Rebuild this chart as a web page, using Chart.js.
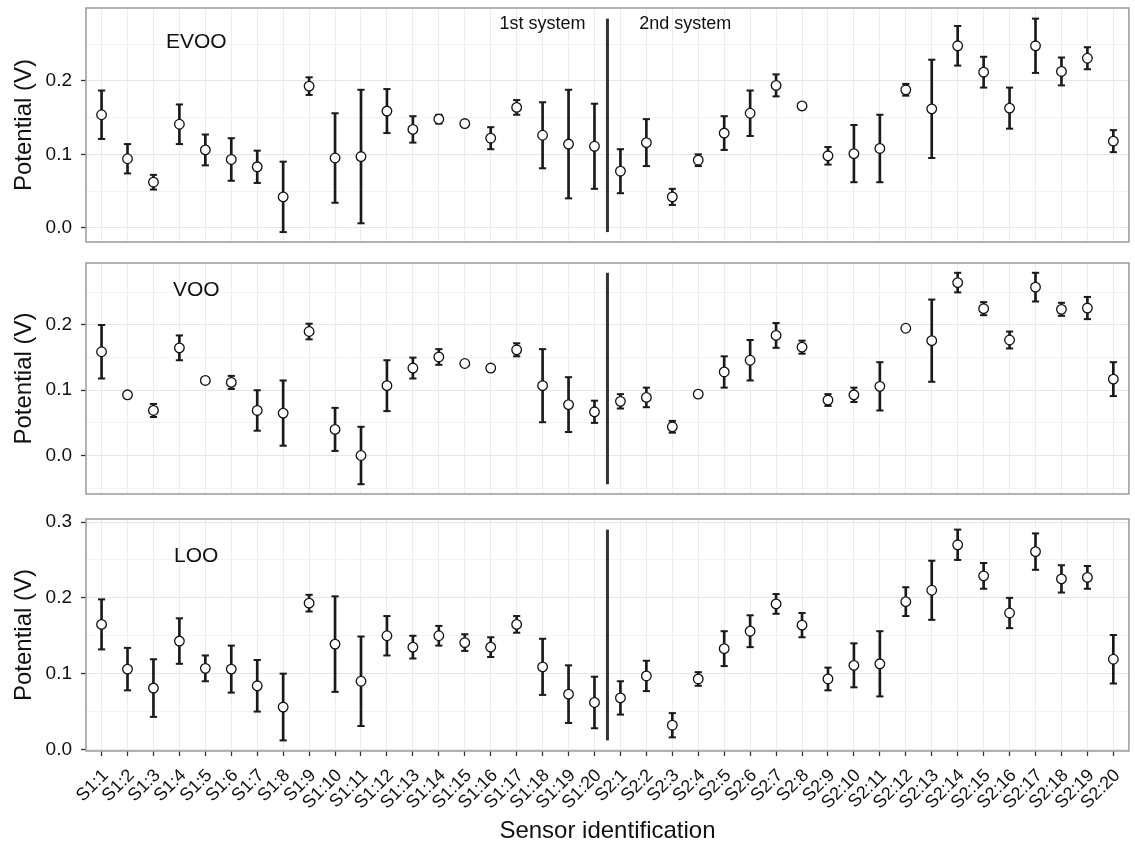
<!DOCTYPE html>
<html>
<head>
<meta charset="utf-8">
<title>Sensor potentials</title>
<script src="https://cdn.jsdelivr.net/npm/chart.js@4/dist/chart.umd.min.js"></script>
<style>
html,body{margin:0;padding:0;background:#fff;}
#wrap{position:relative;width:1135px;height:848px;overflow:hidden;}
.pn{position:absolute;left:0;width:1135px;}
</style>
</head>
<body>
<div id="wrap">
  <div class="pn" style="top:0;height:250px"><canvas id="c1"></canvas></div>
  <div class="pn" style="top:255px;height:247px"><canvas id="c2"></canvas></div>
  <div class="pn" style="top:505px;height:343px"><canvas id="c3"></canvas></div>
</div>
<script>
'use strict';

/* ---- data ---- */
var sensors=['S1:1','S1:2','S1:3','S1:4','S1:5','S1:6','S1:7','S1:8','S1:9','S1:10',
  'S1:11','S1:12','S1:13','S1:14','S1:15','S1:16','S1:17','S1:18','S1:19','S1:20',
  'S2:1','S2:2','S2:3','S2:4','S2:5','S2:6','S2:7','S2:8','S2:9','S2:10',
  'S2:11','S2:12','S2:13','S2:14','S2:15','S2:16','S2:17','S2:18','S2:19','S2:20'];

var evooMean=[0.154,0.094,0.062,0.141,0.106,0.093,0.083,0.042,0.193,0.095,
  0.097,0.159,0.134,0.148,0.142,0.122,0.164,0.126,0.114,0.111,
  0.077,0.116,0.042,0.092,0.129,0.156,0.194,0.166,0.098,0.101,
  0.108,0.188,0.162,0.248,0.212,0.163,0.248,0.213,0.231,0.118];
var evooErr=[0.033,0.020,0.010,0.027,0.021,0.029,0.022,0.048,0.012,0.061,
  0.091,0.030,0.018,0.006,0.002,0.015,0.010,0.045,0.074,0.058,
  0.030,0.032,0.011,0.008,0.023,0.031,0.015,0.004,0.012,0.039,
  0.046,0.008,0.067,0.027,0.021,0.028,0.037,0.019,0.015,0.015];

var vooMean=[0.159,0.093,0.069,0.165,0.115,0.112,0.069,0.065,0.190,0.040,
  0.000,0.107,0.134,0.151,0.141,0.134,0.162,0.107,0.078,0.067,
  0.083,0.089,0.044,0.094,0.128,0.146,0.184,0.166,0.085,0.093,
  0.106,0.195,0.176,0.265,0.225,0.177,0.258,0.224,0.226,0.117];
var vooErr=[0.041,0.001,0.010,0.019,0.001,0.010,0.031,0.050,0.012,0.033,
  0.044,0.039,0.016,0.012,0.001,0.001,0.010,0.056,0.042,0.017,
  0.011,0.015,0.009,0.001,0.024,0.031,0.019,0.010,0.009,0.011,
  0.037,0.001,0.063,0.015,0.010,0.013,0.022,0.010,0.017,0.026];

var looMean=[0.165,0.106,0.081,0.143,0.107,0.106,0.084,0.056,0.193,0.139,
  0.090,0.150,0.135,0.150,0.141,0.135,0.165,0.109,0.073,0.062,
  0.068,0.097,0.032,0.093,0.133,0.156,0.192,0.164,0.093,0.111,
  0.113,0.195,0.210,0.270,0.229,0.180,0.261,0.225,0.227,0.119];
var looErr=[0.033,0.028,0.038,0.030,0.017,0.031,0.034,0.044,0.011,0.063,
  0.059,0.026,0.015,0.013,0.011,0.013,0.011,0.037,0.038,0.034,
  0.022,0.020,0.016,0.009,0.023,0.021,0.013,0.016,0.015,0.029,
  0.043,0.019,0.039,0.020,0.017,0.020,0.024,0.018,0.015,0.032];

/* ---- look ---- */
var FONT='"Liberation Sans", Arial, Helvetica, sans-serif';
var INK='#111';
Chart.defaults.font.family=FONT;
Chart.defaults.color=INK;

function isMajor(v){return Math.abs(v*10-Math.round(v*10))<1e-6;}
function yLabel(v){return isMajor(v)?(Math.round(v*10)/10).toFixed(1):'';}

// grey frame round each panel
var framePlugin={id:'frame',beforeDatasetsDraw:function(chart){
  var a=chart.chartArea,c=chart.ctx;
  c.save();c.strokeStyle='#9a9a9a';c.lineWidth=1.5;
  c.strokeRect(a.left,a.top,a.right-a.left,a.bottom-a.top);
  c.restore();
}};

// text annotations placed in data coordinates
var notePlugin={id:'notes',afterDatasetsDraw:function(chart,args,o){
  var c=chart.ctx,xs=chart.scales.x,ys=chart.scales.y;
  (o.items||[]).forEach(function(it){
    c.save();
    c.font=it.size+'px '+FONT;c.fillStyle=INK;
    c.textAlign='center';c.textBaseline='middle';
    c.fillText(it.text,xs.getPixelForValue(it.x),ys.getPixelForValue(it.y));
    c.restore();
  });
}};

function makePanel(id,mean,err,lim,notes,bottom){
  var pts=[],caps=[],stems=[],lo=Infinity,hi=-Infinity;
  for(var i=0;i<mean.length;i++){
    var a=mean[i]-err[i],b=mean[i]+err[i];
    pts.push({x:i,y:mean[i]});
    stems.push({x:i,y:[a,b]});
    caps.push({x:i,y:a});caps.push({x:i,y:b});
    if(a<lo)lo=a;if(b>hi)hi=b;
  }
  var xScale={type:'linear',min:-0.6,max:39.6,offset:false,
    border:{display:false},
    grid:{color:'#ececec',offset:false,drawTicks:!!bottom,tickLength:5,tickColor:'#333',tickWidth:1.3},
    ticks:{display:!!bottom,stepSize:1,includeBounds:false,autoSkip:false,
      maxRotation:45,minRotation:45,padding:9,labelOffset:4,font:{size:18},color:INK,
      callback:function(v){return sensors[v];}},
    afterFit:function(s){s.height=bottom?97:0;s.paddingLeft=0;s.paddingRight=0;}
  };
  if(bottom)xScale.title={display:true,text:'Sensor identification',font:{size:24},color:INK,padding:{top:0,bottom:2}};

  return new Chart(document.getElementById(id),{
    type:'scatter',
    data:{datasets:[
      {type:'line',data:[{x:19.5,y:lo},{x:19.5,y:hi}],borderColor:'#333',borderWidth:3,pointRadius:0,order:3},
      {type:'bar',data:stems,backgroundColor:'#1a1a1a',barThickness:2,grouped:false,borderWidth:0,order:2},
      {type:'scatter',data:caps,pointStyle:'line',pointRadius:3.6,pointBorderColor:'#1a1a1a',pointBorderWidth:2,order:1},
      {type:'scatter',data:pts,pointStyle:'circle',pointRadius:4.8,pointBackgroundColor:'#fff',pointBorderColor:INK,pointBorderWidth:1.3,order:0}
    ]},
    options:{
      responsive:true,maintainAspectRatio:false,animation:false,
      layout:{padding:{top:bottom?14:8,right:2,bottom:bottom?0:8,left:0}},
      plugins:{legend:{display:false},tooltip:{enabled:false},notes:{items:notes}},
      scales:{
        x:xScale,
        y:{min:lim[0],max:lim[1],
          border:{display:false},
          grid:{color:function(c){return isMajor(c.tick.value)?'#e6e6e6':'#f3f3f3';},
            tickColor:function(c){return isMajor(c.tick.value)?'#333':'rgba(0,0,0,0)';},
            tickLength:5,tickWidth:1.3},
          ticks:{stepSize:0.05,includeBounds:false,padding:9,font:{size:19},color:INK,callback:yLabel},
          title:{display:true,text:'Potential (V)',font:{size:24},color:INK,padding:{top:10,bottom:0}},
          afterFit:function(s){s.width=86;s.paddingTop=0;s.paddingBottom=0;}
        }
      }
    },
    plugins:[framePlugin,notePlugin]
  });
}

makePanel('c1',evooMean,evooErr,[-0.0195,0.2995],[
  {text:'EVOO',x:3.65,y:0.253,size:21},
  {text:'1st system',x:17.0,y:0.278,size:18},
  {text:'2nd system',x:22.5,y:0.278,size:18}
],false);
makePanel('c2',vooMean,vooErr,[-0.059,0.295],[
  {text:'VOO',x:3.65,y:0.253,size:21}
],false);
makePanel('c3',looMean,looErr,[-0.002,0.304],[
  {text:'LOO',x:3.65,y:0.255,size:21}
],true);
</script>
</body>
</html>
